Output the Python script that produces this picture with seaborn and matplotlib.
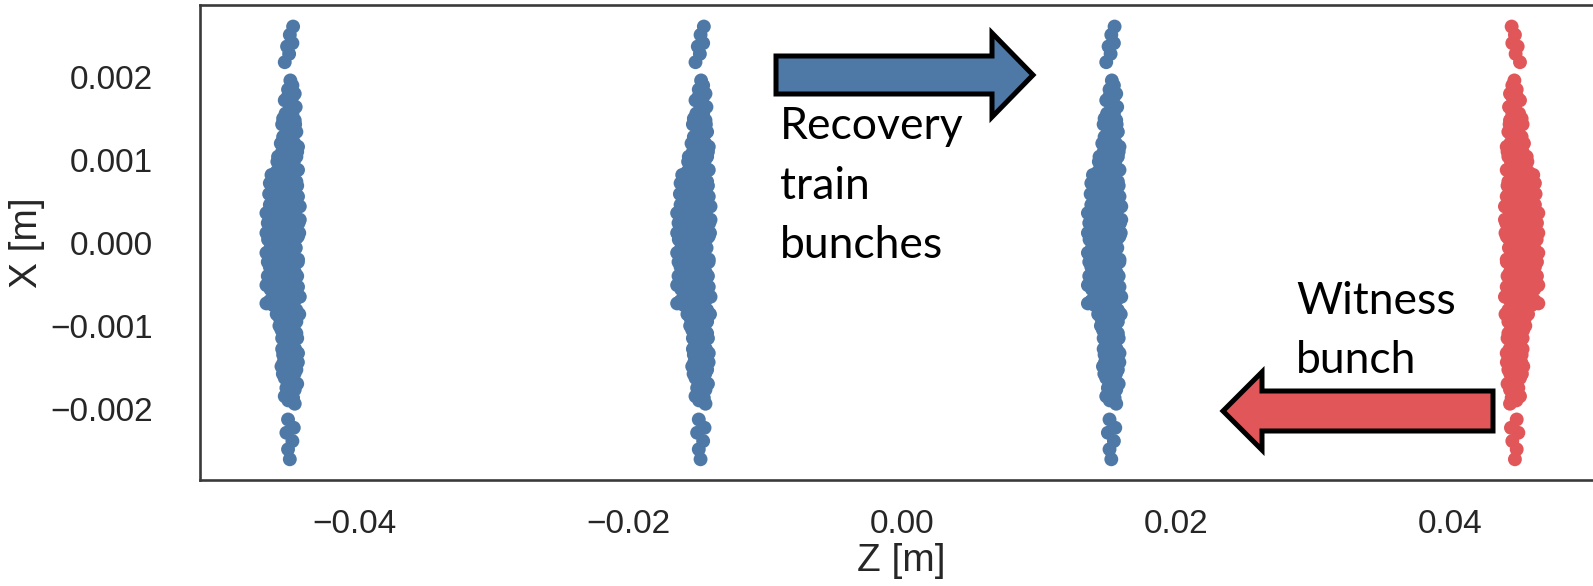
import numpy as np
import pandas as pd
import seaborn as sns
import matplotlib.pyplot as plt
from matplotlib.patches import Polygon

# bunch positions along z [m]
bunch_z = [-0.045, -0.015, 0.015, 0.045]
bunch_kind = ['recovery', 'recovery', 'recovery', 'witness']

# macro-particle offsets inside one bunch [mm]
# dz = longitudinal offset from the bunch position, x = transverse position
# outline / tails
dz_edge = [0.50, 0.26, 0.45, 0.06, 0.21, -0.11,
           0.30, 0.13, 0.62, -0.11, 0.69, 0.21, -0.23, 0.62, 0.01, 0.74,
           -0.23, 0.38, 0.86, -0.11, -0.60, 0.26, 0.74, -0.35, 0.50, 0.86,
           -1.08, -1.20, -0.47, 0.13, 0.74, -0.72, -0.11, 0.50, 0.86, -0.96,
           -0.35, 0.26, 0.99, -1.45, -0.84, -0.23, 0.38, 0.99, -1.20, -0.60,
           0.01, 0.62, 0.86, -1.33, -0.72, -0.11, 0.50, -1.45, -0.84, -0.23,
           0.38, 0.86, -1.20, -0.60, 0.01, 0.62, -1.45, -0.84, -0.23, 0.38,
           0.86, -0.72, -0.11, 0.50, 0.99, -1.45, -0.96, -0.35, 0.26, 0.74,
           -0.47, 0.13, 0.74, -0.35, 0.26, 0.74, -0.11, 0.50, 0.86, -0.23,
           0.38, -0.35, 0.26, 0.74, -0.11, 0.50, 0.01, 0.62, -0.11, 0.50, 0.62,
           0.13, 0.55, 0.01, 0.45, 0.13, 0.26]
x_edge = [2.61, 2.51, 2.41, 2.37, 2.28, 2.18,
          1.96, 1.85, 1.80, 1.72, 1.64, 1.60, 1.50, 1.48, 1.38, 1.34,
          1.28, 1.24, 1.16, 1.16, 1.04, 1.04, 1.04, 0.94, 0.92, 0.88,
          0.82, 0.72, 0.80, 0.76, 0.74, 0.66, 0.62, 0.62, 0.56, 0.52,
          0.50, 0.48, 0.44, 0.36, 0.34, 0.32, 0.32, 0.28, 0.20, 0.18,
          0.16, 0.16, 0.08, 0.04, 0.02, 0.00, -0.02, -0.12, -0.14, -0.16,
          -0.16, -0.20, -0.29, -0.31, -0.33, -0.35, -0.51, -0.47, -0.49, -0.49,
          -0.53, -0.61, -0.65, -0.67, -0.65, -0.73, -0.75, -0.79, -0.81, -0.81,
          -0.91, -0.95, -0.95, -1.05, -1.09, -1.09, -1.21, -1.23, -1.33, -1.35,
          -1.39, -1.49, -1.51, -1.53, -1.63, -1.65, -1.75, -1.77, -1.85, -1.87, -1.94,
          -2.13, -2.23, -2.29, -2.39, -2.49, -2.61]
# dense core
dz_core = [0.45, 0.10, 0.45, 0.30, -0.05, 0.45, -0.30, 0.30, 0.65, 0.10, 0.55,
           -0.40, 0.10, 0.60, -0.30, 0.35, 0.80, -0.65, -0.05, 0.55,
           -0.70, -0.10, 0.35, -0.85, -0.25, 0.45, -1.00, -0.40, 0.20, 0.80,
           -1.25, -0.65, 0.10, 0.70, -1.20, -0.60, 0.00, 0.60,
           -1.10, -0.50, 0.10, 0.70, -1.35, -0.90, -0.30, 0.30, 0.90,
           -1.45, -0.90, -0.30, 0.30, 0.95, -1.05, -0.45, 0.15, 0.75,
           -1.15, -0.55, 0.10, 0.70, -1.35, -0.95, -0.35, 0.25, 0.85,
           -1.35, -0.90, -0.30, 0.30, 0.80, -1.15, -0.55, 0.10, 0.65,
           -1.20, -0.60, 0.00, 0.60, -0.70, -0.10, 0.45, 0.95,
           -0.50, 0.05, 0.55, -0.30, 0.25, 0.80, -0.30, 0.20, 0.65,
           -0.20, 0.35, 0.85, -0.25, 0.15, 0.60, 0.30, 0.80, 0.20, 0.15]
x_core = [1.90, 1.76, 1.76, 1.68, 1.56, 1.56, 1.43, 1.43, 1.43, 1.31, 1.31,
          1.20, 1.20, 1.20, 1.10, 1.10, 1.10, 0.98, 0.98, 0.98,
          0.86, 0.86, 0.86, 0.78, 0.78, 0.78, 0.69, 0.69, 0.69, 0.69,
          0.59, 0.59, 0.59, 0.59, 0.46, 0.46, 0.46, 0.46,
          0.40, 0.40, 0.40, 0.40, 0.24, 0.24, 0.24, 0.24, 0.24,
          0.12, 0.12, 0.12, 0.12, 0.12, 0.06, 0.06, 0.06, 0.06,
          -0.06, -0.06, -0.06, -0.06, -0.23, -0.23, -0.23, -0.23, -0.23,
          -0.40, -0.40, -0.40, -0.40, -0.40, -0.56, -0.56, -0.56, -0.56,
          -0.70, -0.70, -0.70, -0.70, -0.86, -0.86, -0.86, -0.86,
          -1.00, -1.00, -1.00, -1.15, -1.15, -1.15, -1.28, -1.28, -1.28,
          -1.44, -1.44, -1.44, -1.58, -1.58, -1.58, -1.70, -1.70, -1.81, -1.90]

dz_mm = dz_edge + dz_core
x_mm = x_edge + x_core

rows = []
for zc, kind in zip(bunch_z, bunch_kind):
    # the witness bunch moves the other way, its profile is mirrored in z
    sign = -1 if kind == 'witness' else 1
    for d, xv in zip(dz_mm, x_mm):
        rows.append({'Z': zc + sign * d / 1000, 'X': xv / 1000, 'kind': kind})
df = pd.DataFrame(rows)

sns.set_theme(style='white')
plt.rcParams['font.family'] = ['Liberation Sans', 'DejaVu Sans']

W, H = 1593, 586
fig = plt.figure(figsize=(W / 100, H / 100), dpi=100)
ax = fig.add_axes([200 / W, 1 - 480 / H, 1402 / W, 475 / H])

sns.scatterplot(data=df, x='Z', y='X', hue='kind',
                palette={'recovery': '#4E79A7', 'witness': '#E15759'},
                s=100, linewidth=0, legend=False, ax=ax)

ax.set_xlim(-0.0513, 0.0511)
ax.set_ylim(-0.00286, 0.00287)
ax.set_xticks([-0.04, -0.02, 0.00, 0.02, 0.04])
ax.set_yticks([-0.002, -0.001, 0.000, 0.001, 0.002])
ax.tick_params(labelsize=24, colors='#262626')
ax.tick_params(axis='x', pad=15)
ax.tick_params(axis='y', pad=28)
ax.set_xlabel('Z [m]', fontsize=28, color='#262626', labelpad=2)
ax.set_ylabel('X [m]', fontsize=28, color='#262626', labelpad=4)
for sp in ax.spines.values():
    sp.set_linewidth(1.9)
    sp.set_color('#3a3a3a')


def px_poly(pts, color):
    verts = [(px / W, 1 - py / H) for px, py in pts]
    fig.patches.append(Polygon(verts, closed=True, facecolor=color,
                               edgecolor='black', linewidth=3.6,
                               joinstyle='miter', transform=fig.transFigure))


# arrows (pixel coordinates of the picture)
px_poly([(776, 56), (992, 56), (992, 33), (1033, 75), (992, 117),
         (992, 94), (776, 94)], '#4E79A7')
px_poly([(1493, 391), (1262, 391), (1262, 372), (1223, 411), (1262, 450),
         (1262, 431), (1493, 431)], '#E15759')

note = dict(fontsize=32, family=['Lato', 'DejaVu Sans'], color='black',
            va='baseline', ha='left', transform=fig.transFigure)
for txt, yb in zip(['Recovery', 'train', 'bunches'], [139, 199, 258]):
    fig.text(780 / W, 1 - yb / H, txt, **note)
for txt, yb in zip(['Witness', 'bunch'], [314, 373]):
    fig.text(1296 / W, 1 - yb / H, txt, **note)

fig.savefig('out.png', dpi=100)
